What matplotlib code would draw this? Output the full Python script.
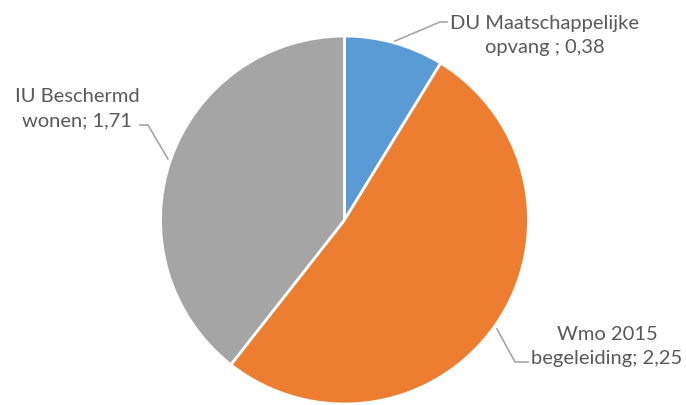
import matplotlib.pyplot as plt

# data
labels = ['DU Maatschappelijke\nopvang ; 0,38', 'Wmo 2015\nbegeleiding; 2,25', 'IU Beschermd\nwonen; 1,71']
values = [0.38, 2.25, 1.71]
colors = ['#5B9BD5', '#ED7D31', '#A5A5A5']

fig = plt.figure(figsize=(6.86, 4.06), dpi=100)
ax = fig.add_axes([0, 0, 1, 1])

ax.pie(values, colors=colors, startangle=90, counterclock=False,
       center=(344.5, 185), radius=184, frame=True,
       wedgeprops=dict(edgecolor='white', linewidth=2))
ax.set_xlim(0, 686)
ax.set_ylim(0, 406)
ax.set_aspect('equal')
ax.axis('off')

txt = dict(color='#595959', fontsize=14.5, family=['Lato', 'DejaVu Sans'],
           ha='center', va='center', linespacing=1.5)
lc = '#A6A6A6'

# labels + leader lines (pixel coords, y flipped)
ax.text(545, 406 - 35, labels[0], **txt)
ax.plot([395, 440, 447], [406 - 42, 406 - 23, 406 - 23], color=lc, lw=1.2)

ax.text(607, 406 - 347, labels[1], **txt)
ax.plot([497, 515, 528], [406 - 330, 406 - 363, 406 - 363], color=lc, lw=1.2)

ax.text(77, 406 - 109, labels[2], **txt)
ax.plot([140, 148, 168], [406 - 126, 406 - 126, 406 - 160], color=lc, lw=1.2)

fig.savefig('out.png', dpi=100)
